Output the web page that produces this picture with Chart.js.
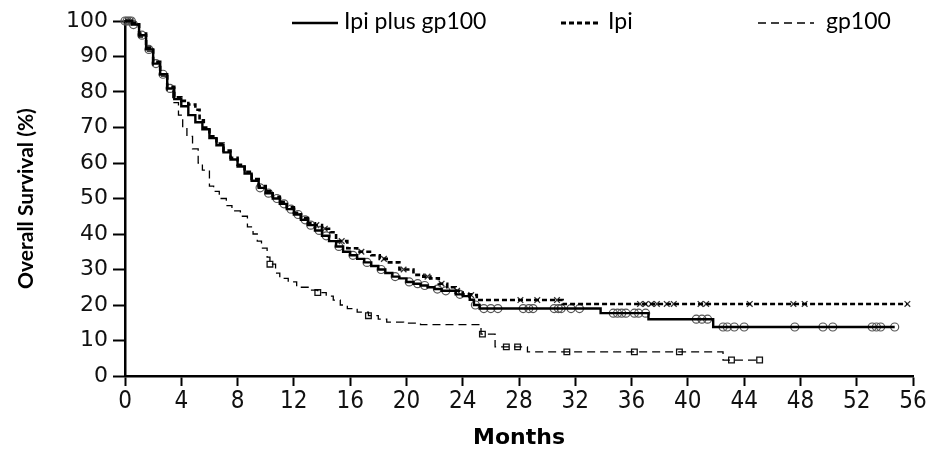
<!DOCTYPE html>
<html>
<head>
<meta charset="utf-8">
<script src="https://cdn.jsdelivr.net/npm/chart.js@4.4.1/dist/chart.umd.min.js"></script>
<style>
  html, body { margin: 0; padding: 0; background: #fff; }
  #wrap { width: 935px; height: 450px; }
</style>
</head>
<body>
<div id="wrap"><canvas id="chart" width="935" height="450"></canvas></div>
<script>
// month ticks on the x axis, survival ticks on the y axis
const xTicks = [0, 4, 8, 12, 16, 20, 24, 28, 32, 36, 40, 44, 48, 52, 56];
const yTicks = [0, 10, 20, 30, 40, 50, 60, 70, 80, 90, 100];

// Ipi plus gp100 (solid) - month of each drop and survival after it
const ipiGpMonths = [0, 0.5, 1, 1.5, 2, 2.5, 3, 3.5, 4, 4.5, 5, 5.5, 6, 6.5, 7, 7.5, 8, 8.5, 9, 9.5,
  10, 10.5, 11, 11.5, 12, 12.5, 13, 13.5, 14, 14.5, 15, 15.5, 16, 16.5, 17, 17.5, 18, 18.5, 19, 19.5,
  20, 20.5, 21, 21.5, 22, 22.5, 23, 23.5, 24, 24.5, 24.8, 25.2, 33.8, 37.2, 41.8, 54.7];
const ipiGpSurv = [100, 99, 96, 92, 88, 85, 81, 78, 76, 73.5, 71.5, 69.5, 67, 65, 63, 61, 59, 57, 55, 53,
  51.5, 50, 48.5, 47, 45.5, 44, 42.5, 41, 39.5, 38, 36.5, 35, 34, 33, 32, 31, 30, 29, 28, 27.5,
  26.5, 26, 25.5, 25, 24.5, 24, 24, 23, 22.5, 21.5, 20, 19, 17.7, 16, 13.8, 13.8];
const ipiGpCensored = [0, 0.15, 0.3, 0.45, 0.6, 1.2, 1.7, 2.2, 2.7, 3.2, 9.6, 10.2, 10.8, 11.3, 11.8, 12.3,
  12.8, 13.2, 13.8, 14.3, 15.2, 16.2, 17.2, 18.2, 19.2, 20.2, 20.8, 21.3, 22.2, 22.8, 23.8, 24.9, 25.5,
  26.0, 26.5, 28.3, 28.7, 29.0, 30.5, 30.8, 31.0, 31.7, 32.3, 34.7, 35.0, 35.3, 35.6, 36.2, 36.5, 37.0,
  40.6, 41.0, 41.4, 42.5, 42.8, 43.3, 44.0, 47.6, 49.6, 50.3, 53.1, 53.4, 53.7, 54.7];

// Ipi alone (heavy dashes)
const ipiMonths = [0, 0.5, 1, 1.5, 2, 2.5, 3, 3.5, 4, 4.5, 5, 5.3, 5.6, 6, 6.5, 7, 7.5, 8, 8.5, 9, 9.5,
  10, 10.5, 11, 11.5, 12, 12.5, 13, 13.5, 14, 14.6, 15, 15.8, 16.5, 17.5, 18.1, 18.6, 19.5, 20.5, 21.2,
  21.7, 22.3, 22.9, 23.5, 24, 24.6, 25, 31.1, 55.6];
const ipiSurv = [100, 99.5, 96.5, 92.5, 88.5, 85, 81.5, 78.5, 77.5, 76.5, 75, 72, 70, 67.5, 65.5, 63.5,
  61.5, 59.5, 57.5, 55.5, 53.5, 52, 50.5, 49, 47.5, 46, 44.5, 43, 42.5, 41.5, 40.5, 38, 36, 35, 34, 33,
  32, 30, 28.5, 28, 27.5, 26, 25, 24, 23, 22.8, 21.4, 20.3, 20.3];
const ipiCensored = [0.2, 0.4, 13.6, 14.2, 15.4, 16.8, 18.4, 19.8, 21.5, 22.5, 23.6, 24.6, 28.1, 29.3,
  30.7, 36.6, 37.0, 37.4, 37.8, 38.5, 39.0, 40.9, 41.3, 44.4, 47.5, 48.3, 55.6];

// gp100 alone (thin dashes)
const gpMonths = [0, 0.5, 1, 1.5, 2, 2.5, 3, 3.4, 3.8, 4.1, 4.4, 4.8, 5.2, 5.5, 6, 6.3, 6.7, 7.2, 7.6,
  8.2, 8.7, 9.1, 9.4, 9.7, 10.1, 10.3, 10.7, 11, 11.6, 12.2, 13.1, 13.7, 14.3, 14.8, 15.3, 15.8, 16.5,
  17.3, 18, 18.6, 19.8, 21, 25.3, 26.3, 28.6, 42.5, 45.1];
const gpSurv = [100, 99, 95.5, 91.5, 87.5, 84.5, 80.5, 77, 73.5, 70, 67.5, 64, 60, 58, 53.5, 52, 50, 48,
  46.5, 45, 42, 40, 38, 36, 33.5, 31.5, 29, 27.5, 26.5, 25, 24.2, 23.5, 22.5, 21.4, 20, 19, 18, 17, 16,
  15.2, 14.9, 14.5, 11.8, 8.2, 6.8, 4.5, 4.5];
const gpCensored = [10.3, 13.7, 17.3, 25.4, 27.1, 27.9, 31.4, 36.2, 39.4, 43.1, 45.1];

function curve(months, surv) {
  return months.map((m, i) => ({ x: m, y: surv[i] }));
}

// censor mark sits on the curve: survival at the last drop before it
function marks(censored, months, surv) {
  return censored.map(t => {
    let k = 0;
    for (let i = 0; i < months.length; i++) if (months[i] <= t) k = i;
    return { x: t, y: surv[k] };
  });
}

const legendItems = [
  { label: 'Ipi plus gp100', x0: 292, x1: 338, tx: 344, width: 2.5, dash: [] },
  { label: 'Ipi', x0: 561, x1: 601, tx: 608, width: 3, dash: [5, 3] },
  { label: 'gp100', x0: 758, x1: 814, tx: 826, width: 1.3, dash: [8, 5] }
];

const legendPlugin = {
  id: 'kmLegend',
  afterDraw(chart) {
    const ctx = chart.ctx;
    ctx.save();
    ctx.strokeStyle = '#000';
    ctx.fillStyle = '#000';
    ctx.font = '23px Lato, "Open Sans", sans-serif';
    ctx.textBaseline = 'middle';
    legendItems.forEach(it => {
      ctx.lineWidth = it.width;
      ctx.setLineDash(it.dash);
      ctx.beginPath();
      ctx.moveTo(it.x0, 23);
      ctx.lineTo(it.x1, 23);
      ctx.stroke();
      ctx.fillText(it.label, it.tx, 22);
    });
    ctx.restore();
  }
};

const ctx = document.getElementById('chart').getContext('2d');
new Chart(ctx, {
  type: 'scatter',
  data: {
    datasets: [
      {
        label: 'Ipi plus gp100',
        data: curve(ipiGpMonths, ipiGpSurv),
        showLine: true, stepped: true,
        borderColor: '#000', borderWidth: 2.4, pointRadius: 0, clip: false
      },
      {
        label: 'Ipi',
        data: curve(ipiMonths, ipiSurv),
        showLine: true, stepped: true,
        borderColor: '#000', borderWidth: 2.6, borderDash: [5, 3], pointRadius: 0, clip: false
      },
      {
        label: 'gp100',
        data: curve(gpMonths, gpSurv),
        showLine: true, stepped: true,
        borderColor: '#000', borderWidth: 1.3, borderDash: [8, 5], pointRadius: 0, clip: false
      },
      {
        label: 'Ipi plus gp100 censored',
        data: marks(ipiGpCensored, ipiGpMonths, ipiGpSurv),
        pointStyle: 'circle', pointRadius: 4, borderWidth: 1.2,
        borderColor: '#555', backgroundColor: 'rgba(255,255,255,0)', clip: false
      },
      {
        label: 'Ipi censored',
        data: marks(ipiCensored, ipiMonths, ipiSurv),
        pointStyle: 'crossRot', pointRadius: 4, borderWidth: 1.3,
        borderColor: '#333', clip: false
      },
      {
        label: 'gp100 censored',
        data: marks(gpCensored, gpMonths, gpSurv),
        pointStyle: 'rect', pointRadius: 4, borderWidth: 1.3,
        borderColor: '#111', backgroundColor: '#fff', clip: false
      }
    ]
  },
  options: {
    responsive: false,
    animation: false,
    layout: { padding: { top: 21, right: 22, bottom: 0, left: 0 } },
    plugins: {
      legend: { display: false },
      tooltip: { enabled: false }
    },
    scales: {
      x: {
        type: 'linear',
        min: 0, max: 56,
        afterBuildTicks: s => { s.ticks = xTicks.map(v => ({ value: v })); },
        afterFit: s => { s.height = 74; },
        grid: { drawOnChartArea: false, drawTicks: true, tickLength: 10, tickWidth: 2, color: '#000' },
        border: { display: true, color: '#000', width: 2.5 },
        ticks: {
          color: '#111', padding: 1,
          font: { family: '"Liberation Sans Narrow", "DejaVu Sans Condensed", sans-serif', size: 24 }
        },
        title: {
          display: true, text: 'Months', color: '#000',
          font: { family: '"DejaVu Sans", sans-serif', size: 22, weight: 'bold', lineHeight: 1 },
          padding: { top: 0, bottom: 1 }
        }
      },
      y: {
        min: 0, max: 100,
        afterBuildTicks: s => { s.ticks = yTicks.map(v => ({ value: v })); },
        afterFit: s => { s.width = 125; },
        grid: { drawOnChartArea: false, drawTicks: true, tickLength: 12, tickWidth: 2, color: '#000' },
        border: { display: true, color: '#000', width: 2.5 },
        ticks: {
          color: '#111', padding: 5,
          font: { family: '"DejaVu Sans", sans-serif', size: 22 }
        },
        title: {
          display: true, text: 'Overall Survival (%)', color: '#000',
          font: { family: 'Lato, sans-serif', size: 21, weight: 'bold', lineHeight: 1 },
          padding: { top: 16, bottom: 0 }
        }
      }
    }
  },
  plugins: [legendPlugin]
});
</script>
</body>
</html>
